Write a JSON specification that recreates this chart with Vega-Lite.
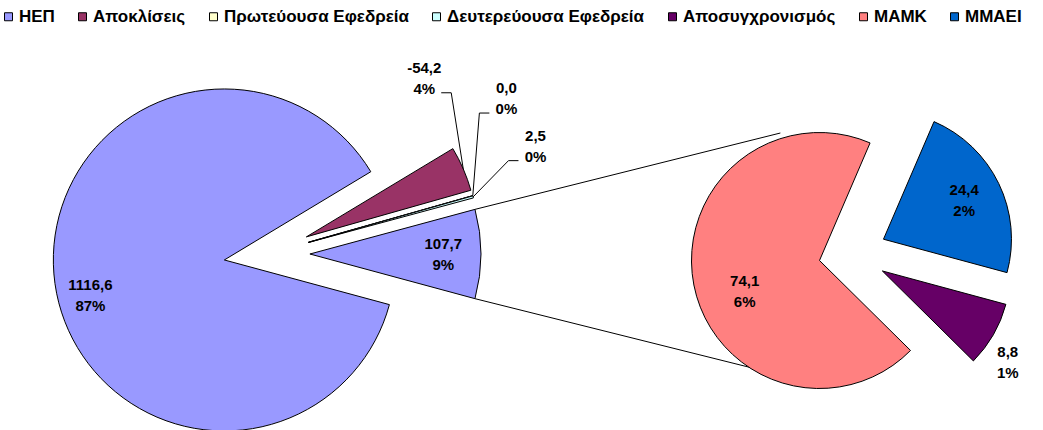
{
  "$schema": "https://vega.github.io/schema/vega-lite/v6.json",
  "width": 1043,
  "height": 440,
  "padding": {"left": 0, "right": 0, "top": 8, "bottom": 0},
  "background": "#ffffff",
  "config": {"view": {"stroke": null}, "font": "Liberation Sans"},
  "data": {
    "values": [
      {"pie": "main", "n": 1, "slice": "ΗΕΠ", "value": 1116.6, "label": "1116,6\n87%"},
      {"pie": "main", "n": 2, "slice": "Αποκλίσεις", "value": -54.2, "label": "-54,2\n4%"},
      {"pie": "main", "n": 3, "slice": "Πρωτεύουσα Εφεδρεία", "value": 0.0, "label": "0,0\n0%"},
      {"pie": "main", "n": 4, "slice": "Δευτερεύουσα Εφεδρεία", "value": 2.5, "label": "2,5\n0%"},
      {"pie": "main", "n": 5, "slice": "Άλλο", "value": 107.7, "label": "107,7\n9%"},
      {"pie": "sub", "n": 1, "slice": "Αποσυγχρονισμός", "value": 8.8, "label": "8,8\n1%"},
      {"pie": "sub", "n": 2, "slice": "ΜΑΜΚ", "value": 74.1, "label": "74,1\n6%"},
      {"pie": "sub", "n": 3, "slice": "ΜΜΑΕΙ", "value": 24.4, "label": "24,4\n2%"}
    ]
  },
  "transform": [
    {"calculate": "abs(datum.value)", "as": "size"},
    {"stack": "size", "groupby": ["pie"], "sort": [{"field": "n", "order": "ascending"}], "as": ["s0", "s1"]},
    {"joinaggregate": [{"op": "sum", "field": "size", "as": "tot"}], "groupby": ["pie"]},
    {"calculate": "datum.pie === 'main' ? 171 : 128", "as": "R"},
    {"calculate": "datum.pie === 'main' ? 43 : 34", "as": "E"},
    {"calculate": "1.835 + 2 * PI * datum.s0 / datum.tot", "as": "a0"},
    {"calculate": "1.835 + 2 * PI * datum.s1 / datum.tot", "as": "a1"},
    {"calculate": "(datum.a0 + datum.a1) / 2", "as": "mid"},
    {"calculate": "datum.E * sin(datum.mid)", "as": "ex"},
    {"calculate": "-datum.E * cos(datum.mid)", "as": "ey"},
    {"calculate": "datum.slice === 'ΗΕΠ' ? -0.12 : datum.slice === 'Αποκλίσεις' ? -0.524 : datum.slice === 'Πρωτεύουσα Εφεδρεία' ? -0.353 : datum.slice === 'Δευτερεύουσα Εφεδρεία' ? -0.133 : datum.slice === 'Αποσυγχρονισμός' ? 0.105 : datum.slice === 'ΜΑΜΚ' ? -0.19 : 0", "as": "dth"},
    {"calculate": "datum.slice === 'ΗΕΠ' ? 0.81 : datum.slice === 'Αποκλίσεις' ? 1.158 : datum.slice === 'Πρωτεύουσα Εφεδρεία' ? 1.433 : datum.slice === 'Δευτερεύουσα Εφεδρεία' ? 1.444 : datum.slice === 'Αποσυγχρονισμός' ? 1.21 : datum.slice === 'ΜΑΜΚ' ? 0.63 : datum.slice === 'ΜΜΑΕΙ' ? 0.70 : 0.78", "as": "lf"},
    {"calculate": "datum.ex + datum.lf * datum.R * sin(datum.mid + datum.dth)", "as": "lx"},
    {"calculate": "datum.ey - datum.lf * datum.R * cos(datum.mid + datum.dth)", "as": "ly"}
  ],
  "layer": [
    {
      "transform": [
        {"filter": "datum.slice === 'Άλλο'"},
        {"fold": ["top", "bottom"], "as": ["edge", "edgeValue"]},
        {"fold": ["main", "sub"], "as": ["end", "endValue"]},
        {"calculate": "datum.end === 'main' ? datum.ex + datum.R * sin(datum.edge === 'top' ? datum.a0 : datum.a1) : -72.5", "as": "cx"},
        {"calculate": "datum.end === 'main' ? datum.ey - datum.R * cos(datum.edge === 'top' ? datum.a0 : datum.a1) : (datum.edge === 'top' ? -121 : 121)", "as": "cy"}
      ],
      "mark": {"type": "line", "color": "#000000", "strokeWidth": 1},
      "encoding": {
        "x": {"field": "end", "type": "nominal", "scale": {"type": "point", "domain": ["main", "sub"], "padding": 0.39, "align": 0.584}, "axis": null},
        "y": {"datum": 0, "type": "quantitative", "scale": {"domain": [-1, 1]}, "axis": null},
        "xOffset": {"field": "cx", "type": "quantitative", "scale": null},
        "yOffset": {"field": "cy", "type": "quantitative", "scale": null},
        "detail": {"field": "edge", "type": "nominal"},
        "order": {"field": "end", "type": "ordinal"}
      }
    },
    {
      "mark": {"type": "arc", "stroke": "#000000", "strokeWidth": 1},
      "encoding": {
        "x": {"field": "pie", "type": "nominal", "scale": {"type": "point", "domain": ["main", "sub"], "padding": 0.39, "align": 0.584}, "axis": null},
        "y": {"datum": 0, "type": "quantitative", "scale": {"domain": [-1, 1]}, "axis": null},
        "xOffset": {"field": "ex", "type": "quantitative", "scale": null},
        "yOffset": {"field": "ey", "type": "quantitative", "scale": null},
        "theta": {"field": "a0", "type": "quantitative", "scale": null},
        "theta2": {"field": "a1"},
        "radius": {"field": "R", "type": "quantitative", "scale": null},
        "color": {
          "condition": {"test": "datum.slice === 'Άλλο'", "value": "#9999FF"},
          "field": "slice",
          "type": "nominal",
          "scale": {
            "domain": ["ΗΕΠ", "Αποκλίσεις", "Πρωτεύουσα Εφεδρεία", "Δευτερεύουσα Εφεδρεία", "Αποσυγχρονισμός", "ΜΑΜΚ", "ΜΜΑΕΙ"],
            "range": ["#9999FF", "#993366", "#FFFFCC", "#CCFFFF", "#660066", "#FF8080", "#0066CC"]
          },
          "legend": {
            "title": null,
            "orient": "top",
            "direction": "horizontal",
            "symbolType": "square",
            "symbolSize": 64,
            "symbolStrokeColor": "#000000",
            "symbolStrokeWidth": 1,
            "symbolOpacity": 1,
            "labelFont": "Liberation Sans",
            "labelFontWeight": "bold",
            "labelFontSize": 17,
            "labelColor": "#000000",
            "labelLimit": 0,
            "labelOffset": 2,
            "columnPadding": 19,
            "offset": 9
          }
        }
      }
    },
    {
      "transform": [
        {"filter": "datum.pie === 'main' && datum.n >= 2 && datum.n <= 4"},
        {"calculate": "datum.ex + datum.R * sin(datum.mid)", "as": "ox"},
        {"calculate": "datum.ey - datum.R * cos(datum.mid)", "as": "oy"},
        {"calculate": "datum.ox > datum.lx ? 1 : -1", "as": "side"},
        {"fold": ["q1", "q2", "q3"], "as": ["k", "kv"]},
        {"calculate": "datum.k === 'q1' ? datum.lx + datum.side * 17 : datum.k === 'q2' ? datum.lx + datum.side * 27 : datum.ox", "as": "px"},
        {"calculate": "datum.k === 'q3' ? datum.oy : datum.ly + 15", "as": "py"}
      ],
      "mark": {"type": "line", "color": "#000000", "strokeWidth": 1},
      "encoding": {
        "x": {"field": "pie", "type": "nominal", "scale": {"type": "point", "domain": ["main", "sub"], "padding": 0.39, "align": 0.584}, "axis": null},
        "y": {"datum": 0, "type": "quantitative", "scale": {"domain": [-1, 1]}, "axis": null},
        "xOffset": {"field": "px", "type": "quantitative", "scale": null},
        "yOffset": {"field": "py", "type": "quantitative", "scale": null},
        "detail": {"field": "slice", "type": "nominal"},
        "order": {"field": "k", "type": "ordinal"}
      }
    },
    {
      "mark": {"type": "text", "font": "Liberation Sans", "fontWeight": "bold", "fontSize": 15, "lineBreak": "\n", "lineHeight": 21, "align": "center", "baseline": "middle", "dy": -10, "color": "#000000"},
      "encoding": {
        "x": {"field": "pie", "type": "nominal", "scale": {"type": "point", "domain": ["main", "sub"], "padding": 0.39, "align": 0.584}, "axis": null},
        "y": {"datum": 0, "type": "quantitative", "scale": {"domain": [-1, 1]}, "axis": null},
        "xOffset": {"field": "lx", "type": "quantitative", "scale": null},
        "yOffset": {"field": "ly", "type": "quantitative", "scale": null},
        "text": {"field": "label", "type": "nominal"}
      }
    }
  ]
}
